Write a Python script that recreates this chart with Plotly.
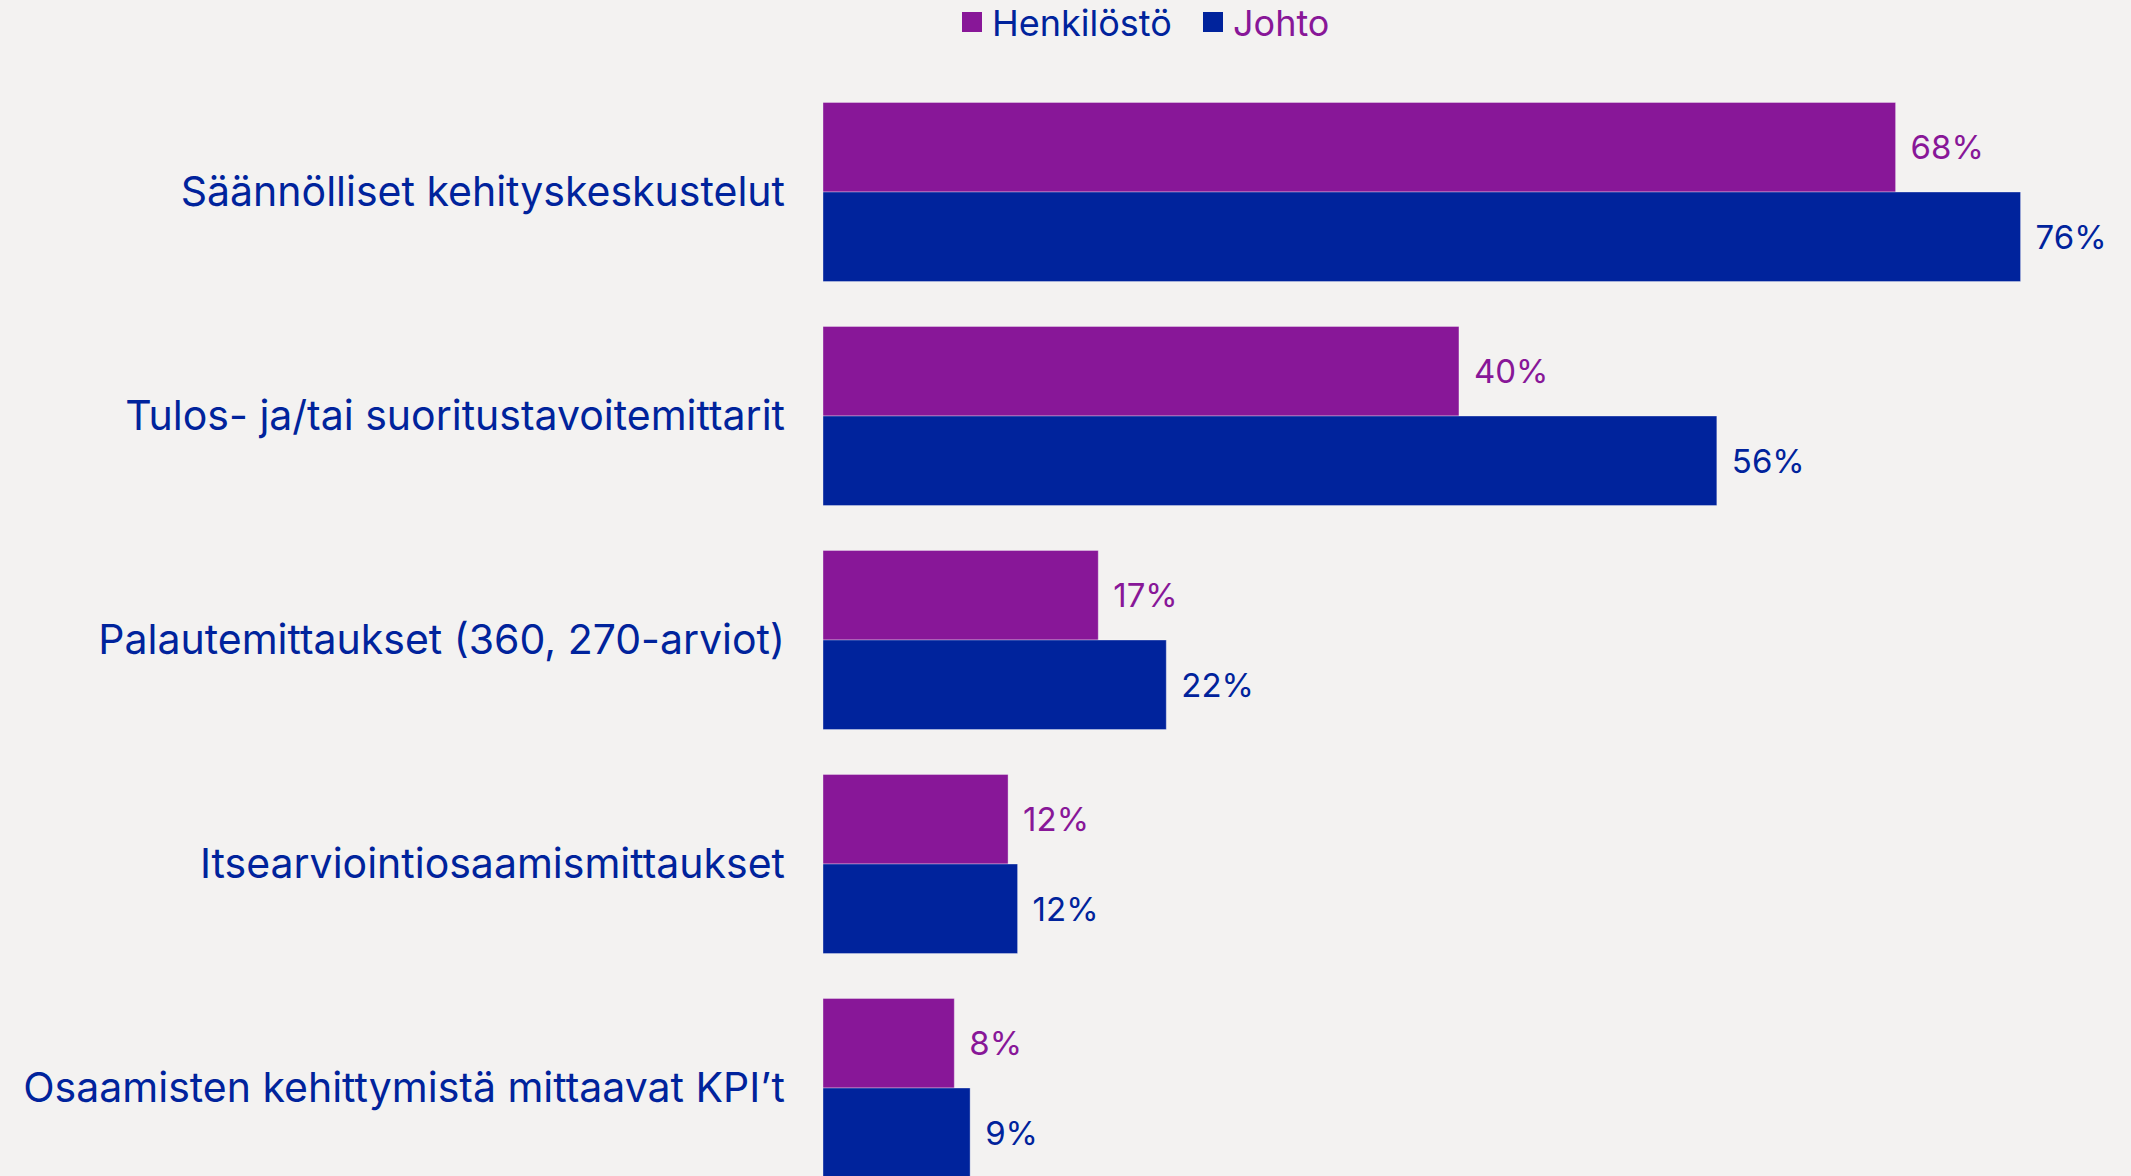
import plotly.graph_objects as go

categories = [
    "Säännölliset kehityskeskustelut",
    "Tulos- ja/tai suoritustavoitemittarit",
    "Palautemittaukset (360, 270-arviot)",
    "Itsearviointiosaamismittaukset",
    "Osaamisten kehittymistä mittaavat KPI’t",
]
henkilosto = [67.8, 40.2, 17.4, 11.7, 8.3]
johto = [75.7, 56.5, 21.7, 12.3, 9.3]
henkilosto_labels = ["68%", "40%", "17%", "12%", "8%"]
johto_labels = ["76%", "56%", "22%", "12%", "9%"]

PURPLE = "#881798"
BLUE = "#00239C"
BG = "#F3F2F1"
FONT = "Inter"

pad = "\u2009\u2009"

fig = go.Figure()
fig.add_trace(go.Bar(
    y=categories, x=henkilosto, orientation="h", name="Henkilöstö",
    marker=dict(color=PURPLE, line=dict(color="rgba(255,255,255,0.35)", width=1)),
    text=[pad + t for t in henkilosto_labels], textposition="outside",
    textfont=dict(color=PURPLE, size=33, family=FONT), cliponaxis=False,
    showlegend=False,
))
fig.add_trace(go.Bar(
    y=categories, x=johto, orientation="h", name="Johto",
    marker=dict(color=BLUE, line=dict(color="rgba(255,255,255,0.35)", width=1)),
    text=[pad + t for t in johto_labels], textposition="outside",
    textfont=dict(color=BLUE, size=33, family=FONT), cliponaxis=False,
    showlegend=False,
))
# legend entries
fig.add_trace(go.Scatter(
    x=[None], y=[None], mode="markers", name=f"<span style='color:{BLUE}'>Henkilöstö</span>",
    marker=dict(symbol="square", size=16, color=PURPLE, line=dict(color=PURPLE, width=4)),
))
fig.add_trace(go.Scatter(
    x=[None], y=[None], mode="markers", name=f"<span style='color:{PURPLE}'>Johto</span>",
    marker=dict(symbol="square", size=16, color=BLUE, line=dict(color=BLUE, width=4)),
))

W, H = 2131, 1176
ml, mr, mt, mb = 823, 8, 80, 0
pw = W - ml - mr
ph = H - mt - mb
px_per_unit = 15.82
band = 224.0

fig.update_layout(
    width=W, height=H,
    margin=dict(l=ml, r=mr, t=mt, b=mb, pad=0, autoexpand=False),
    paper_bgcolor=BG, plot_bgcolor=BG,
    barmode="group", bargap=0.2, bargroupgap=0,
    font=dict(family=FONT, color=BLUE),
    legend=dict(
        orientation="h", x=(952 - ml) / pw, xanchor="left",
        y=1 + (mt + 8) / ph, yanchor="top",
        font=dict(size=36, family=FONT),
        bgcolor="rgba(0,0,0,0)", itemsizing="trace",
        entrywidth=196, entrywidthmode="pixels",
    ),
    xaxis=dict(
        range=[0, pw / px_per_unit], visible=False, showgrid=False, zeroline=False,
    ),
    yaxis=dict(
        type="category", categoryorder="array", categoryarray=categories,
        range=[-0.5 + ph / band, -0.5],
        showgrid=False, zeroline=False, showline=False, ticks="",
        tickfont=dict(size=41, family=FONT, color=BLUE),
        ticklabelstandoff=37,
    ),
)

fig.write_html(
    "out.html",
    config={"displayModeBar": False},
    post_script=(
        "document.body.style.margin='0';"
        "document.body.style.overflow='hidden';"
        f"document.body.style.backgroundColor='{BG}';"
    ),
)
